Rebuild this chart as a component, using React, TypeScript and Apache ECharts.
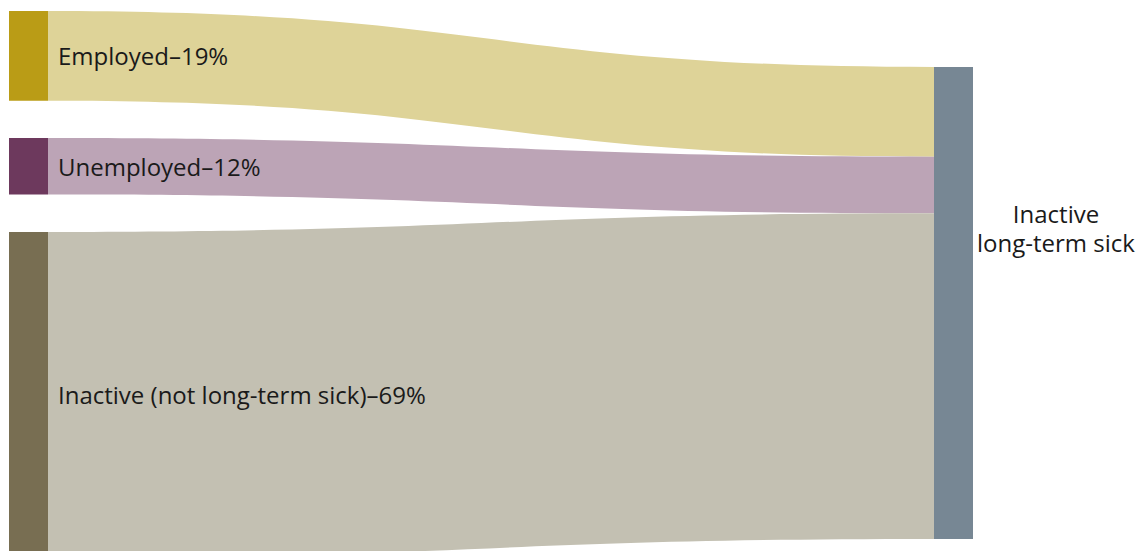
import React, { useEffect, useRef } from "react";
import * as echarts from "echarts";

const sources = ["Employed", "Unemployed", "Inactive (not long-term sick)"];
const target = "Inactive long-term sick";
const shares = [19, 12, 69];
const nodeColors = ["#BA9C16", "#6D395D", "#786E52"];
const linkColors = ["#DED398", "#BCA4B6", "#C3C0B2"];
const targetColor = "#778794";

export default function App() {
  const ref = useRef<HTMLDivElement>(null);
  useEffect(() => {
    if (!ref.current) return;
    const chart = echarts.init(ref.current, undefined, { renderer: "svg" });
    const font = "'Open Sans', 'Noto Sans', sans-serif";
    const nodes: any[] = sources.map((s, i) => ({
      name: s,
      itemStyle: { color: nodeColors[i] },
      label: {
        position: "right",
        distance: 10,
        formatter: () => `${s}–${shares[i]}%`,
      },
    }));
    nodes.push({
      name: target,
      localY: 0.10245,
      itemStyle: { color: targetColor },
      label: {
        position: "right",
        distance: 5,
        align: "center",
        offset: [78, -75],
        lineHeight: 29,
        formatter: () => "Inactive\nlong-term sick",
      },
    });
    const links = sources.map((s, i) => ({
      source: s,
      target: target,
      value: shares[i],
      lineStyle: { color: linkColors[i], opacity: 1 },
    }));
    chart.setOption({
      animation: false,
      series: [
        {
          type: "sankey",
          left: 9,
          right: 165,
          top: 11,
          bottom: 12.4,
          nodeWidth: 39,
          nodeGap: 37.3,
          layoutIterations: 0,
          draggable: false,
          nodeAlign: "justify",
          emphasis: { disabled: true },
          label: {
            color: "#1a1a1a",
            fontSize: 24,
            fontFamily: font,
          },
          itemStyle: { borderWidth: 0 },
          lineStyle: { curveness: 0.5, opacity: 1 },
          data: nodes,
          links: links,
        },
      ],
    });
    return () => chart.dispose();
  }, []);
  return (
    <div
      style={{
        position: "fixed",
        left: 0,
        top: 0,
        width: 1138,
        height: 551,
        overflow: "hidden",
        background: "#fff",
      }}
    >
      <div ref={ref} style={{ width: 1138, height: 570 }} />
    </div>
  );
}
